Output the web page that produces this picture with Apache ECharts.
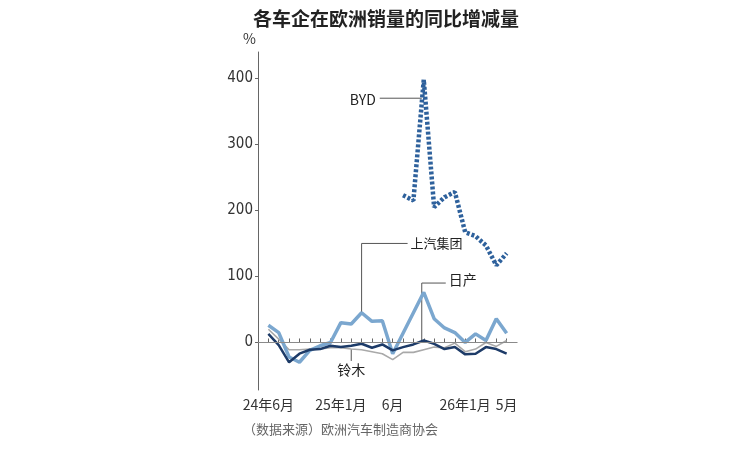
<!DOCTYPE html>
<html>
<head>
<meta charset="utf-8">
<script src="https://cdn.jsdelivr.net/npm/echarts@6/dist/echarts.min.js"></script>
<style>
  html, body { margin: 0; padding: 0; background: #fff; }
  #main { width: 750px; height: 450px; }
</style>
</head>
<body>
<div id="main"></div>
<script>
// 月份(24年6月 ~ 26年5月)
var months = ['24年6月', '7月', '8月', '9月', '10月', '11月', '12月',
  '25年1月', '2月', '3月', '4月', '5月', '6月', '7月', '8月', '9月', '10月', '11月', '12月',
  '26年1月', '2月', '3月', '4月', '5月'];
// 显示刻度文字的月份序号
var labelIdx = [0, 7, 12, 19, 23];
var yTicks = [0, 100, 200, 300, 400];

// 同比增减量 %
var saic = [26, 15, -22, -30, -12, -5, 0, 30, 28, 45, 32, 33, -17, 14, 45, 76, 36, 22, 15, 0, 13, 3, 36, 14];
var nissan = [13, -4, -30, -17, -11, -10, -5, -7, -5, -2, -8, -3, -12, -7, -3, 3, -2, -10, -7, -18, -17, -7, -10, -17];
var suzuki = [20, 5, -11, -11, -10, -10, -8, -8, -10, -11, -14, -17, -26, -15, -15, -11, -7, -8, -1, -14, -10, 0, -6, 3];
var byd = [null, null, null, null, null, null, null, null, null, null, null, null, null,
  223, 215, 398, 205, 220, 228, 167, 161, 147, 117, 135];

var font = "'Noto Sans CJK SC', sans-serif";
var numFont = "'Liberation Sans Narrow', 'DejaVu Sans Condensed', 'Noto Sans CJK SC', sans-serif";

// 两端各留一个空位
function pad(arr) { return [null].concat(arr, [null]); }
var cats = [''].concat(months, ['']);

var chartDom = document.getElementById('main');
var myChart = echarts.init(chartDom);
var option;

option = {
    animation: false,
    title: {
        text: '各车企在欧洲销量的同比增减量',
        left: 248, top: 4,
        textStyle: { fontFamily: font, fontSize: 19, fontWeight: 'bold', color: '#222' }
    },
    grid: { left: 258, right: 233, top: 52, bottom: 60 },
    xAxis: {
        type: 'category',
        data: cats,
        boundaryGap: false,
        axisLine: { lineStyle: { color: '#666', width: 1 } },
        axisTick: {
            inside: true, length: 4,
            lineStyle: { color: '#666' },
            interval: function (i) { return i > 0 && i < cats.length - 1; }
        },
        axisLabel: {
            interval: 0, margin: 8,
            fontFamily: font, fontSize: 14, color: '#333',
            formatter: function (v, i) { return labelIdx.indexOf(i - 1) >= 0 ? v : ''; }
        },
        splitLine: { show: false }
    },
    yAxis: {
        type: 'value',
        min: -72, max: 440,
        axisLine: { show: true, lineStyle: { color: '#666', width: 1 } },
        axisTick: { show: true, length: 3, customValues: yTicks, lineStyle: { color: '#666' } },
        axisLabel: { customValues: yTicks, margin: 5, fontFamily: numFont, fontSize: 15, color: '#333' },
        splitLine: { show: false }
    },
    series: [
        {
            name: '铃木', type: 'line', data: pad(suzuki), symbol: 'none',
            lineStyle: { color: '#a9a9a9', width: 1.6 },
            markLine: {
                silent: true, symbol: 'none', label: { show: false },
                lineStyle: { color: '#8a8a8a', width: 1, type: 'solid' },
                data: [{ yAxis: 0 }]
            }
        },
        {
            name: '上汽集团', type: 'line', data: pad(saic), symbol: 'none',
            lineStyle: { color: '#7ba7cf', width: 3.5 }
        },
        {
            name: '日产', type: 'line', data: pad(nissan), symbol: 'none',
            lineStyle: { color: '#1d3b68', width: 2.5 }
        },
        {
            name: 'BYD', type: 'line', data: pad(byd), symbol: 'none',
            lineStyle: { color: '#2e619c', width: 4.5, type: [3, 2], cap: 'butt' }
        }
    ]
};

option && myChart.setOption(option);

// 标注线: 从数据点换算出像素位置
function px(i, v) { return myChart.convertToPixel({ gridIndex: 0 }, [i + 1, v]); }
var lc = '#555';
var g = [];
// BYD
var p = px(15, 370);
g.push({ type: 'line', shape: { x1: p[0] - 44, y1: p[1], x2: p[0] - 2, y2: p[1] }, style: { stroke: lc, lineWidth: 1 } });
g.push({ type: 'text', x: p[0] - 48, y: p[1] + 1, style: { text: 'BYD', font: '14px ' + font, fill: '#222', align: 'right', verticalAlign: 'middle' } });
// 上汽集团
var a = px(9, saic[9]), b = px(9, 150);
g.push({ type: 'polyline', shape: { points: [[a[0], a[1]], [b[0], b[1]], [b[0] + 46, b[1]]] }, style: { stroke: lc, lineWidth: 1, fill: null } });
g.push({ type: 'text', x: b[0] + 49, y: b[1], style: { text: '上汽集团', font: '13px ' + font, fill: '#222', verticalAlign: 'middle' } });
// 日产
a = px(15, nissan[15]); b = px(15, 90);
g.push({ type: 'polyline', shape: { points: [[a[0] - 2, a[1]], [b[0] - 2, b[1]], [b[0] + 22, b[1]]] }, style: { stroke: lc, lineWidth: 1, fill: null } });
g.push({ type: 'text', x: b[0] + 25, y: b[1] - 3, style: { text: '日产', font: '14px ' + font, fill: '#222', verticalAlign: 'middle' } });
// 铃木
a = px(8, suzuki[8]); b = px(8, -28);
g.push({ type: 'line', shape: { x1: a[0], y1: a[1], x2: b[0], y2: b[1] }, style: { stroke: lc, lineWidth: 1 } });
g.push({ type: 'text', x: b[0], y: b[1] + 9, style: { text: '铃木', font: '14px ' + font, fill: '#222', align: 'center', verticalAlign: 'middle' } });
// % 和 数据来源
g.push({ type: 'text', left: 243, top: 32, style: { text: '%', font: '14px ' + font, fill: '#333' } });
g.push({ type: 'text', left: 243, top: 423, style: { text: '（数据来源）欧洲汽车制造商协会', font: '13px ' + font, fill: '#666' } });

myChart.setOption({ graphic: g });
</script>
</body>
</html>
